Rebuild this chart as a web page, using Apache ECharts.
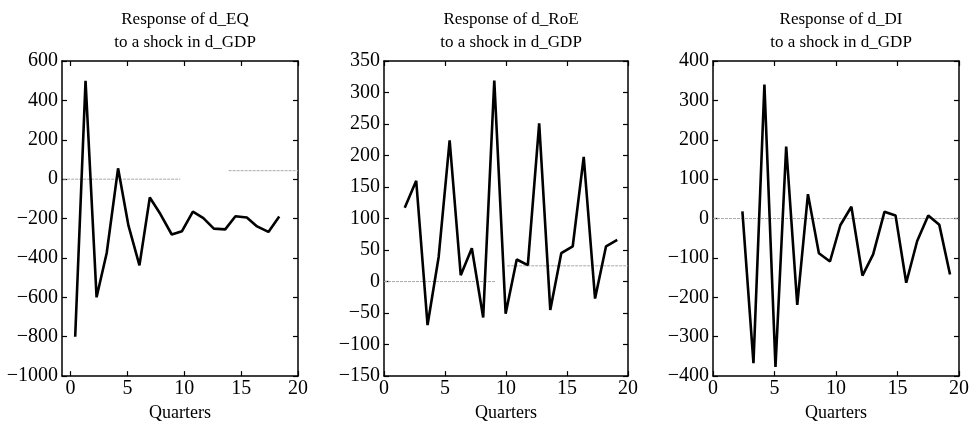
<!DOCTYPE html>
<html style="height: 100%">
<head>
<meta charset="utf-8">
<script src="https://cdn.jsdelivr.net/npm/echarts@6/dist/echarts.min.js"></script>
</head>
<body style="height: 100%; margin: 0; background: #fff">
<div id="container" style="width: 977px; height: 427px"></div>
<script type="text/javascript">
// 标题
var titles = [
  'Response of d_EQ\nto a shock in d_GDP',
  'Response of d_RoE\nto a shock in d_GDP',
  'Response of d_DI\nto a shock in d_GDP'
];
var xName = 'Quarters';
var xTicks = [0, 5, 10, 15, 20];

// d_EQ
var eqX = [0.41, 1.32, 2.29, 3.18, 4.18, 5.09, 6.06, 6.97, 7.9, 8.9, 9.8, 10.76, 11.68, 12.6, 13.6, 14.5, 15.5, 16.4, 17.4, 18.35];
var eqY = [-800, 500, -600, -375, 55, -235, -438, -93, -177, -281, -264, -165, -198, -251, -255, -188, -195, -240, -268, -190];
// d_RoE
var roeX = [1.7, 2.64, 3.57, 4.48, 5.38, 6.29, 7.2, 8.13, 9.04, 9.97, 10.88, 11.79, 12.72, 13.63, 14.53, 15.47, 16.37, 17.3, 18.2, 19.12];
var roeY = [117, 160, -69, 39, 224, 10, 53, -57, 319, -51, 35, 26, 251, -45, 45, 56, 198, -27, 56, 66];
// d_DI
var diX = [2.39, 3.29, 4.18, 5.08, 5.95, 6.85, 7.72, 8.61, 9.51, 10.35, 11.25, 12.15, 13.02, 13.94, 14.84, 15.71, 16.6, 17.5, 18.4, 19.27];
var diY = [18, -367, 340, -377, 183, -219, 62, -88, -109, -17, 30, -145, -91, 17, 8, -163, -57, 8, -16, -142];

// 灰色虚线 [x0, x1, y]
var eqRefs = [[-0.65, 9.65, 0], [13.9, 20, 43]];
var roeRefs = [[0, 9.1, 0], [10.1, 20, 25]];
var diRefs = [[0, 8.75, 0], [8.9, 20, 0]];

// 坐标轴范围
var yMin = [-1000, -150, -400];
var yMax = [600, 350, 400];
var yStep = [200, 50, 100];
var xMin = [-0.75, 0, 0];

var panels = [
  {xs: eqX, ys: eqY, refs: eqRefs, left: 62, width: 236},
  {xs: roeX, ys: roeY, refs: roeRefs, left: 384, width: 244},
  {xs: diX, ys: diY, refs: diRefs, left: 713, width: 246}
];

var dom = document.getElementById('container');
var myChart = echarts.init(dom);
var font = 'Liberation Serif';
var minus = function (v) { return String(v).replace('-', '\u2212'); };

var option = {
  backgroundColor: '#fff',
  animation: false,
  title: [], grid: [], xAxis: [], yAxis: [], series: []
};

panels.forEach(function (p, i) {
  option.title.push({
    text: titles[i],
    left: p.left + p.width / 2,
    top: 3,
    textAlign: 'center',
    textStyle: {fontFamily: font, fontSize: 17, fontWeight: 'normal', color: '#000', lineHeight: 23}
  });
  option.grid.push({left: p.left, width: p.width, top: 61, height: 323});

  var lineStyle = {color: '#000', width: 1.5};
  var xTick = {show: true, inside: true, length: 5, customValues: xTicks, lineStyle: {color: '#000', width: 1.2}};
  var yTick = {show: true, inside: true, length: 5, lineStyle: {color: '#000', width: 1.2}};
  // 下方/左侧坐标轴
  option.xAxis.push({
    type: 'value', gridIndex: i, min: xMin[i], max: 20,
    name: xName, nameLocation: 'middle', nameGap: 25,
    nameTextStyle: {fontFamily: font, fontSize: 18, color: '#000'},
    axisLine: {show: true, onZero: false, lineStyle: lineStyle},
    axisTick: xTick,
    axisLabel: {fontFamily: font, fontSize: 20, color: '#000', margin: 3, customValues: xTicks},
    splitLine: {show: false}
  });
  option.yAxis.push({
    type: 'value', gridIndex: i, min: yMin[i], max: yMax[i], interval: yStep[i],
    axisLine: {show: true, onZero: false, lineStyle: lineStyle},
    axisTick: yTick,
    axisLabel: {fontFamily: font, fontSize: 20, color: '#000', margin: 4, formatter: minus},
    splitLine: {show: false}
  });
  // 上方/右侧（只画刻度）
  option.xAxis.push({
    type: 'value', gridIndex: i, position: 'top', min: xMin[i], max: 20,
    axisLine: {show: true, onZero: false, lineStyle: lineStyle},
    axisTick: xTick, axisLabel: {show: false}, splitLine: {show: false}
  });
  option.yAxis.push({
    type: 'value', gridIndex: i, position: 'right', min: yMin[i], max: yMax[i], interval: yStep[i],
    axisLine: {show: true, onZero: false, lineStyle: lineStyle},
    axisTick: yTick, axisLabel: {show: false}, splitLine: {show: false}
  });

  p.refs.forEach(function (r) {
    option.series.push({
      type: 'line', xAxisIndex: i * 2, yAxisIndex: i * 2,
      data: [[r[0], r[2]], [r[1], r[2]]],
      symbol: 'none', silent: true, z: 1,
      lineStyle: {color: '#a8a8a8', width: 1, type: [3, 1]}
    });
  });

  option.series.push({
    type: 'line', xAxisIndex: i * 2, yAxisIndex: i * 2,
    data: p.xs.map(function (x, k) { return [x, p.ys[k]]; }),
    symbol: 'none', z: 3,
    lineStyle: {color: '#000', width: 2.6}
  });
});

myChart.setOption(option, true);
</script>
</body>
</html>
